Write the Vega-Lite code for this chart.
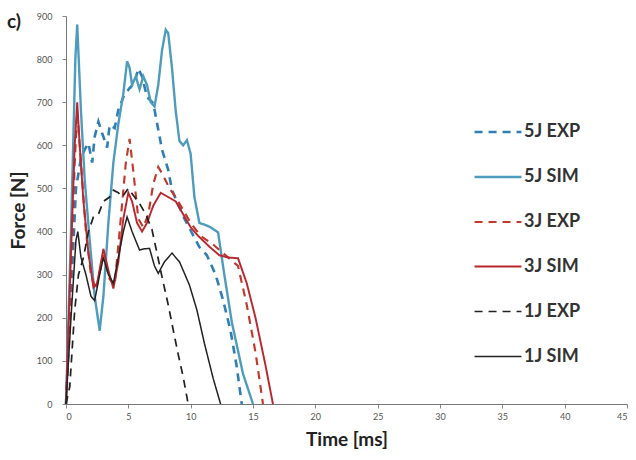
{
  "$schema": "https://vega.github.io/schema/vega-lite/v6.json",
  "autosize": "none",
  "padding": {"left": 66, "top": 16, "right": 9, "bottom": 56},
  "width": 561,
  "height": 388,
  "background": "white",
  "title": {"text": "c)", "anchor": "start", "frame": "group", "dx": -59, "dy": 24, "fontSize": 19, "fontWeight": "bold", "font": "Lato", "color": "#222"},
  "config": {
    "view": {"stroke": null},
    "axis": {"grid": false, "labelFont": "Lato", "labelFontSize": 9, "labelColor": "#555", "tickColor": "#888", "domainColor": "#777", "tickSize": 4, "titleFont": "Lato", "titleFontSize": 19, "titleFontWeight": "bold", "titleColor": "#222"},
    "legend": {"labelFont": "Lato", "labelFontSize": 18, "labelFontWeight": "bold", "labelColor": "#333"}
  },
  "data": {"values": [
    {"t":0,"f":0,"s":"5J EXP"},{"t":0.4,"f":250,"s":"5J EXP"},{"t":0.8,"f":500,"s":"5J EXP"},{"t":1.2,"f":570,"s":"5J EXP"},{"t":1.5,"f":590,"s":"5J EXP"},{"t":1.8,"f":605,"s":"5J EXP"},{"t":2.1,"f":560,"s":"5J EXP"},{"t":2.3,"f":620,"s":"5J EXP"},{"t":2.6,"f":655,"s":"5J EXP"},{"t":2.9,"f":628,"s":"5J EXP"},{"t":3.3,"f":595,"s":"5J EXP"},{"t":3.5,"f":647,"s":"5J EXP"},{"t":3.9,"f":640,"s":"5J EXP"},{"t":4.2,"f":682,"s":"5J EXP"},{"t":4.6,"f":712,"s":"5J EXP"},{"t":5.1,"f":733,"s":"5J EXP"},{"t":5.5,"f":745,"s":"5J EXP"},{"t":5.8,"f":778,"s":"5J EXP"},{"t":6.1,"f":760,"s":"5J EXP"},{"t":6.5,"f":712,"s":"5J EXP"},{"t":7.0,"f":698,"s":"5J EXP"},{"t":7.3,"f":652,"s":"5J EXP"},{"t":7.7,"f":590,"s":"5J EXP"},{"t":8.2,"f":543,"s":"5J EXP"},{"t":8.5,"f":496,"s":"5J EXP"},{"t":9.5,"f":430,"s":"5J EXP"},{"t":10.7,"f":364,"s":"5J EXP"},{"t":11.3,"f":345,"s":"5J EXP"},{"t":12.0,"f":300,"s":"5J EXP"},{"t":12.6,"f":241,"s":"5J EXP"},{"t":13.2,"f":170,"s":"5J EXP"},{"t":13.7,"f":86,"s":"5J EXP"},{"t":14.1,"f":0,"s":"5J EXP"},

    {"t":0,"f":0,"s":"5J SIM"},{"t":0.4,"f":400,"s":"5J SIM"},{"t":0.75,"f":800,"s":"5J SIM"},{"t":0.9,"f":880,"s":"5J SIM"},{"t":1.05,"f":780,"s":"5J SIM"},{"t":1.2,"f":680,"s":"5J SIM"},{"t":1.5,"f":520,"s":"5J SIM"},{"t":1.9,"f":380,"s":"5J SIM"},{"t":2.3,"f":250,"s":"5J SIM"},{"t":2.7,"f":170,"s":"5J SIM"},{"t":3.0,"f":250,"s":"5J SIM"},{"t":3.4,"f":420,"s":"5J SIM"},{"t":3.8,"f":560,"s":"5J SIM"},{"t":4.2,"f":650,"s":"5J SIM"},{"t":4.6,"f":720,"s":"5J SIM"},{"t":4.9,"f":795,"s":"5J SIM"},{"t":5.1,"f":780,"s":"5J SIM"},{"t":5.3,"f":740,"s":"5J SIM"},{"t":5.6,"f":760,"s":"5J SIM"},{"t":5.9,"f":730,"s":"5J SIM"},{"t":6.2,"f":760,"s":"5J SIM"},{"t":6.5,"f":740,"s":"5J SIM"},{"t":6.8,"f":700,"s":"5J SIM"},{"t":7.1,"f":690,"s":"5J SIM"},{"t":7.4,"f":740,"s":"5J SIM"},{"t":7.7,"f":820,"s":"5J SIM"},{"t":8.0,"f":868,"s":"5J SIM"},{"t":8.2,"f":860,"s":"5J SIM"},{"t":8.5,"f":780,"s":"5J SIM"},{"t":8.8,"f":680,"s":"5J SIM"},{"t":9.1,"f":610,"s":"5J SIM"},{"t":9.4,"f":600,"s":"5J SIM"},{"t":9.7,"f":612,"s":"5J SIM"},{"t":10.0,"f":580,"s":"5J SIM"},{"t":10.3,"f":480,"s":"5J SIM"},{"t":10.7,"f":420,"s":"5J SIM"},{"t":11.2,"f":415,"s":"5J SIM"},{"t":11.6,"f":410,"s":"5J SIM"},{"t":12.2,"f":398,"s":"5J SIM"},{"t":12.7,"f":300,"s":"5J SIM"},{"t":13.3,"f":190,"s":"5J SIM"},{"t":14.2,"f":70,"s":"5J SIM"},{"t":15.0,"f":0,"s":"5J SIM"},

    {"t":0,"f":0,"s":"3J EXP"},{"t":0.4,"f":300,"s":"3J EXP"},{"t":0.7,"f":560,"s":"3J EXP"},{"t":0.9,"f":680,"s":"3J EXP"},{"t":1.2,"f":560,"s":"3J EXP"},{"t":1.6,"f":400,"s":"3J EXP"},{"t":2.0,"f":300,"s":"3J EXP"},{"t":2.4,"f":265,"s":"3J EXP"},{"t":3.0,"f":345,"s":"3J EXP"},{"t":3.5,"f":290,"s":"3J EXP"},{"t":3.9,"f":275,"s":"3J EXP"},{"t":4.3,"f":400,"s":"3J EXP"},{"t":4.8,"f":560,"s":"3J EXP"},{"t":5.1,"f":615,"s":"3J EXP"},{"t":5.4,"f":540,"s":"3J EXP"},{"t":5.8,"f":430,"s":"3J EXP"},{"t":6.2,"f":410,"s":"3J EXP"},{"t":6.6,"f":440,"s":"3J EXP"},{"t":7.0,"f":510,"s":"3J EXP"},{"t":7.4,"f":550,"s":"3J EXP"},{"t":7.8,"f":530,"s":"3J EXP"},{"t":8.3,"f":500,"s":"3J EXP"},{"t":8.8,"f":480,"s":"3J EXP"},{"t":9.3,"f":455,"s":"3J EXP"},{"t":10.0,"f":420,"s":"3J EXP"},{"t":10.8,"f":390,"s":"3J EXP"},{"t":11.8,"f":370,"s":"3J EXP"},{"t":12.8,"f":345,"s":"3J EXP"},{"t":13.8,"f":320,"s":"3J EXP"},{"t":14.5,"f":230,"s":"3J EXP"},{"t":15.2,"f":120,"s":"3J EXP"},{"t":15.8,"f":0,"s":"3J EXP"},

    {"t":0,"f":0,"s":"3J SIM"},{"t":0.4,"f":350,"s":"3J SIM"},{"t":0.7,"f":600,"s":"3J SIM"},{"t":0.9,"f":700,"s":"3J SIM"},{"t":1.1,"f":600,"s":"3J SIM"},{"t":1.4,"f":470,"s":"3J SIM"},{"t":1.8,"f":350,"s":"3J SIM"},{"t":2.2,"f":270,"s":"3J SIM"},{"t":2.5,"f":280,"s":"3J SIM"},{"t":3.0,"f":360,"s":"3J SIM"},{"t":3.4,"f":310,"s":"3J SIM"},{"t":3.8,"f":268,"s":"3J SIM"},{"t":4.2,"f":330,"s":"3J SIM"},{"t":4.6,"f":430,"s":"3J SIM"},{"t":5.0,"f":490,"s":"3J SIM"},{"t":5.3,"f":470,"s":"3J SIM"},{"t":5.7,"f":420,"s":"3J SIM"},{"t":6.1,"f":400,"s":"3J SIM"},{"t":6.5,"f":420,"s":"3J SIM"},{"t":7.0,"f":460,"s":"3J SIM"},{"t":7.6,"f":490,"s":"3J SIM"},{"t":8.2,"f":480,"s":"3J SIM"},{"t":8.8,"f":470,"s":"3J SIM"},{"t":9.4,"f":440,"s":"3J SIM"},{"t":10.0,"f":410,"s":"3J SIM"},{"t":10.6,"f":390,"s":"3J SIM"},{"t":11.5,"f":365,"s":"3J SIM"},{"t":12.3,"f":345,"s":"3J SIM"},{"t":13.0,"f":340,"s":"3J SIM"},{"t":13.8,"f":338,"s":"3J SIM"},{"t":14.5,"f":280,"s":"3J SIM"},{"t":15.2,"f":200,"s":"3J SIM"},{"t":16.0,"f":90,"s":"3J SIM"},{"t":16.6,"f":0,"s":"3J SIM"},

    {"t":0,"f":0,"s":"1J EXP"},{"t":0.3,"f":40,"s":"1J EXP"},{"t":0.7,"f":218,"s":"1J EXP"},{"t":1.0,"f":300,"s":"1J EXP"},{"t":1.4,"f":340,"s":"1J EXP"},{"t":1.8,"f":400,"s":"1J EXP"},{"t":2.2,"f":434,"s":"1J EXP"},{"t":2.6,"f":440,"s":"1J EXP"},{"t":3.0,"f":470,"s":"1J EXP"},{"t":3.5,"f":480,"s":"1J EXP"},{"t":3.8,"f":496,"s":"1J EXP"},{"t":4.2,"f":490,"s":"1J EXP"},{"t":4.5,"f":480,"s":"1J EXP"},{"t":5.0,"f":500,"s":"1J EXP"},{"t":5.5,"f":480,"s":"1J EXP"},{"t":5.9,"f":465,"s":"1J EXP"},{"t":6.4,"f":440,"s":"1J EXP"},{"t":6.9,"f":404,"s":"1J EXP"},{"t":7.3,"f":350,"s":"1J EXP"},{"t":7.7,"f":295,"s":"1J EXP"},{"t":8.2,"f":230,"s":"1J EXP"},{"t":8.6,"f":172,"s":"1J EXP"},{"t":9.0,"f":115,"s":"1J EXP"},{"t":9.4,"f":63,"s":"1J EXP"},{"t":9.8,"f":0,"s":"1J EXP"},

    {"t":0,"f":0,"s":"1J SIM"},{"t":0.4,"f":200,"s":"1J SIM"},{"t":0.8,"f":380,"s":"1J SIM"},{"t":0.95,"f":400,"s":"1J SIM"},{"t":1.2,"f":340,"s":"1J SIM"},{"t":1.6,"f":300,"s":"1J SIM"},{"t":2.0,"f":250,"s":"1J SIM"},{"t":2.3,"f":240,"s":"1J SIM"},{"t":2.7,"f":300,"s":"1J SIM"},{"t":3.0,"f":340,"s":"1J SIM"},{"t":3.4,"f":300,"s":"1J SIM"},{"t":3.8,"f":280,"s":"1J SIM"},{"t":4.2,"f":340,"s":"1J SIM"},{"t":4.6,"f":400,"s":"1J SIM"},{"t":4.9,"f":434,"s":"1J SIM"},{"t":5.3,"f":400,"s":"1J SIM"},{"t":5.9,"f":357,"s":"1J SIM"},{"t":6.3,"f":360,"s":"1J SIM"},{"t":6.7,"f":361,"s":"1J SIM"},{"t":7.1,"f":320,"s":"1J SIM"},{"t":7.4,"f":303,"s":"1J SIM"},{"t":7.9,"f":330,"s":"1J SIM"},{"t":8.5,"f":350,"s":"1J SIM"},{"t":9.1,"f":330,"s":"1J SIM"},{"t":9.9,"f":276,"s":"1J SIM"},{"t":10.5,"f":218,"s":"1J SIM"},{"t":11.1,"f":141,"s":"1J SIM"},{"t":11.8,"f":60,"s":"1J SIM"},{"t":12.4,"f":0,"s":"1J SIM"}
  ]},
  "mark": {"type": "line", "interpolate": "linear"},
  "encoding": {
    "x": {"field": "t", "type": "quantitative", "scale": {"domain": [0, 45], "nice": false}, "axis": {"title": "Time [ms]", "values": [0,5,10,15,20,25,30,35,40,45], "labelPadding": 4, "titlePadding": 9}},
    "y": {"field": "f", "type": "quantitative", "scale": {"domain": [0, 900], "nice": false}, "axis": {"title": "Force [N]", "values": [0,100,200,300,400,500,600,700,800,900], "labelPadding": 10, "titlePadding": 8}},
    "color": {"field": "s", "type": "nominal", "title": null,
      "scale": {"domain": ["5J EXP","5J SIM","3J EXP","3J SIM","1J EXP","1J SIM"], "range": ["#2f7fb5","#4d9bbd","#c0392b","#b8282f","#222222","#222222"]},
      "legend": {"orient": "none", "legendX": 407, "legendY": 91, "symbolType": "stroke", "symbolSize": 2200, "symbolStrokeWidth": 3.5, "labelOffset": 1, "rowPadding": 11, "padding": 0,
        "encode": {"symbols": {"update": {"strokeDash": {"signal": "indexof(datum.value, 'EXP') >= 0 ? [13,10] : [1,0]"}}}}}},
    "strokeDash": {"field": "s", "type": "nominal", "title": null,
      "scale": {"domain": ["5J EXP","5J SIM","3J EXP","3J SIM","1J EXP","1J SIM"], "range": [[8,6],[1,0],[8,6],[1,0],[8,6],[1,0]]}},
    "strokeWidth": {"field": "s", "type": "nominal", "legend": null,
      "scale": {"domain": ["5J EXP","5J SIM","3J EXP","3J SIM","1J EXP","1J SIM"], "range": [2.6,1.5,2.6,1.7,2.6,1.5]}}
  }
}
